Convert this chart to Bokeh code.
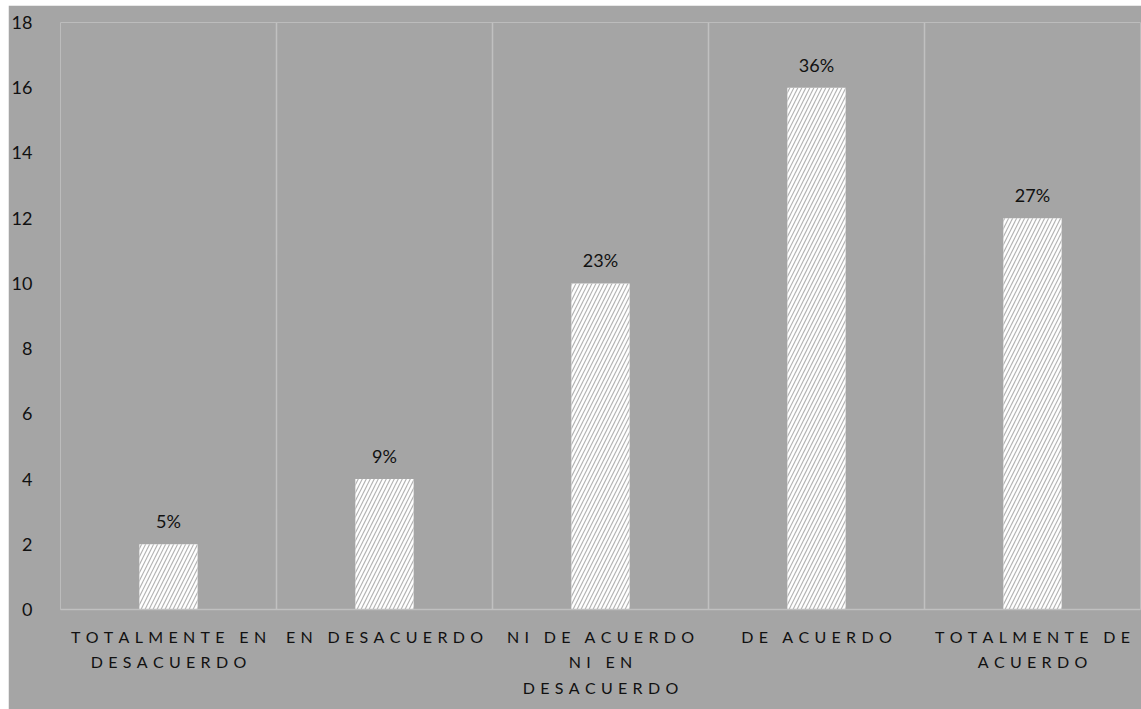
from bokeh.plotting import figure
from bokeh.models import FixedTicker, Range1d, ColumnDataSource
from bokeh.embed import file_html
from bokeh.resources import INLINE
from bokeh.core.properties import value

categories = ["TOTALMENTE EN\nDESACUERDO", "EN DESACUERDO", "NI DE ACUERDO\nNI EN\nDESACUERDO",
              "DE ACUERDO", "TOTALMENTE DE\nACUERDO"]
counts = [2, 4, 10, 16, 12]
pct_labels = ["5%", "9%", "23%", "36%", "27%"]
y_ticks = [0, 2, 4, 6, 8, 10, 12, 14, 16, 18]

GAP = "\u2004"

def spaced(s):
    lines = []
    for line in s.split("\n"):
        words = [GAP.join(list(w)) for w in line.split(" ")]
        lines.append((GAP * 2 + "\u00a0").join(words))
    return "\n".join(lines)

xs = [i + 0.5 for i in range(len(categories))]
src = ColumnDataSource(dict(x=xs, top=counts, lab=pct_labels))

BG = "#a5a5a5"
p = figure(width=1133, height=704, output_backend="svg", toolbar_location=None,
           x_range=Range1d(0, len(categories)), y_range=Range1d(0, 18))
p.margin = (5, 0, 0, 8)
p.min_border_left = 51
p.min_border_right = 1
p.min_border_top = 17
p.min_border_bottom = 100
p.background_fill_color = BG
p.border_fill_color = BG
p.outline_line_color = None

p.vbar(x="x", top="top", width=0.27, source=src, fill_color="white", line_color=None,
       hatch_pattern="/", hatch_color="#b4b4b4", hatch_scale=8, hatch_weight=1.2)
p.text(x="x", y="top", text="lab", source=src, text_align="center", text_baseline="bottom",
       y_offset=-12, text_font=value("Lato"), text_font_size="18px", text_color="#111111")

p.ygrid.grid_line_color = None
p.xgrid.ticker = FixedTicker(ticks=list(range(len(categories) + 1)))
p.xgrid.grid_line_color = "#c0c0c0"
p.xgrid.grid_line_width = 1.5

p.yaxis.ticker = FixedTicker(ticks=y_ticks)
p.yaxis.axis_line_color = None
p.yaxis.major_tick_line_color = None
p.yaxis.minor_tick_line_color = None
p.yaxis.major_label_text_font = "Lato"
p.yaxis.major_label_text_font_size = "18px"
p.yaxis.major_label_text_color = "#111111"
p.yaxis.major_label_standoff = 22

p.xaxis.ticker = FixedTicker(ticks=xs)
p.xaxis.major_label_overrides = {x: spaced(c) for x, c in zip(xs, categories)}
p.xaxis.axis_line_color = "#c0c0c0"
p.xaxis.axis_line_width = 1.5
p.xaxis.major_tick_line_color = None
p.xaxis.minor_tick_line_color = None
p.xaxis.major_label_text_font = "Lato"
p.xaxis.major_label_text_font_size = "16px"
p.xaxis.major_label_text_color = "#111111"
p.xaxis.major_label_standoff = 11
p.xaxis.major_label_text_line_height = 1.35

open("out.html", "w").write(file_html(p, INLINE))
